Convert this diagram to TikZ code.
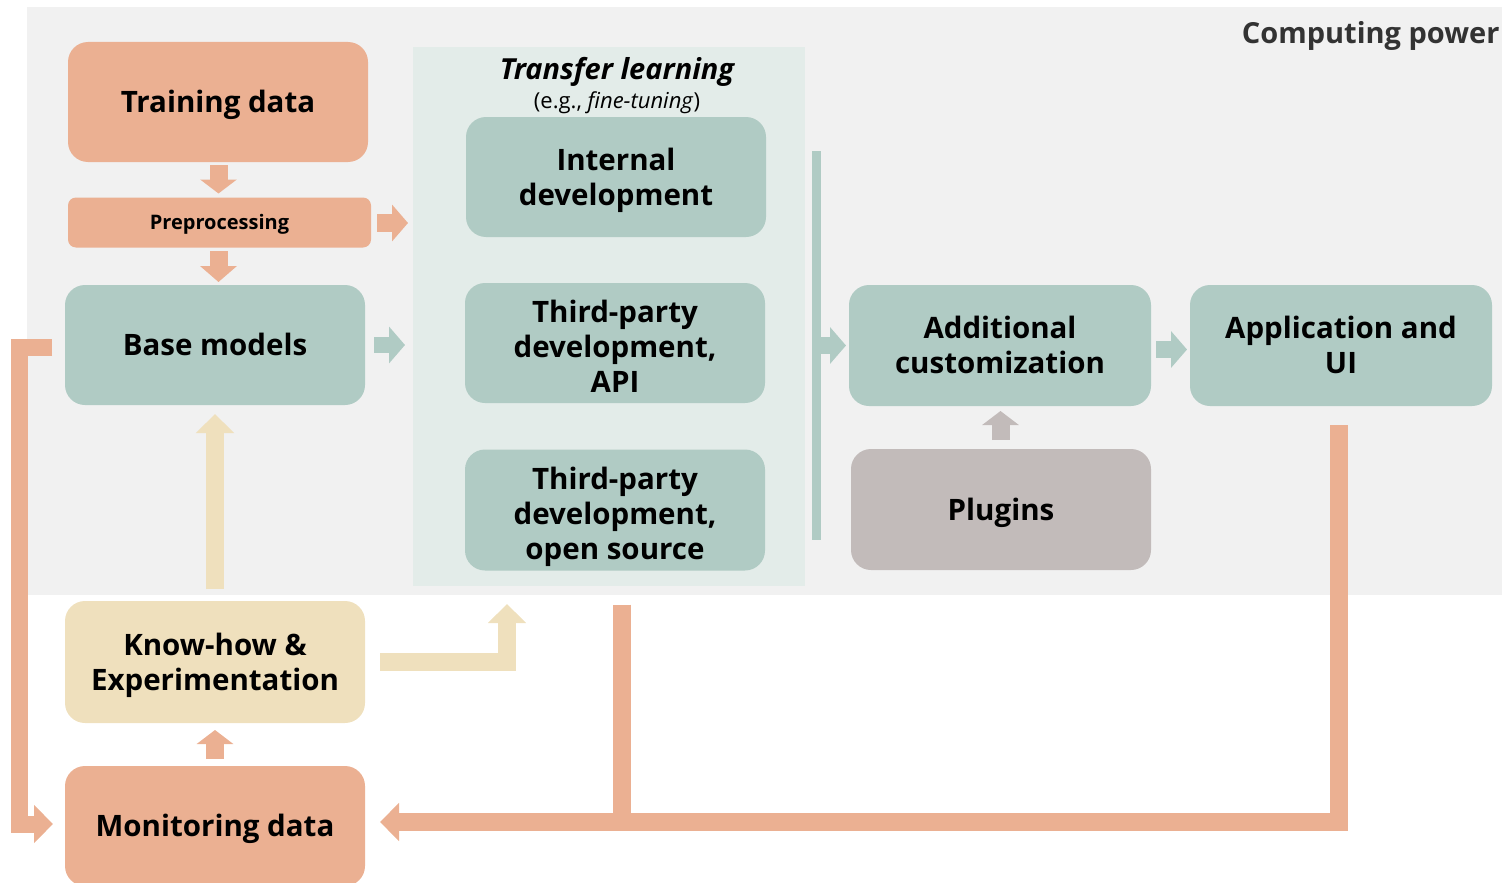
\documentclass[tikz,border=0pt]{standalone}
\usepackage{fontspec}
\setmainfont{Open Sans}
\usetikzlibrary{arrows.meta,calc}
\definecolor{salmon}{HTML}{EBB092}
\definecolor{sage}{HTML}{B0CBC4}
\definecolor{sand}{HTML}{EFE0BD}
\definecolor{stone}{HTML}{C2BBBA}
\definecolor{bggray}{HTML}{F1F1F1}
\definecolor{panelbg}{HTML}{E3ECE9}
\definecolor{darktext}{HTML}{333333}

% centred block of lines, lowered a little inside its box
\newcommand{\boxlines}[2][-3.5pt]{\raisebox{#1}[\height][\depth]{\begin{tabular}{@{}c@{}}#2\end{tabular}}}

\begin{document}
\begin{tikzpicture}[x=1pt,y=-1pt,
  box/.style={rectangle, rounded corners=20pt, minimum width=300pt, minimum height=120pt,
    inner sep=0pt, outer sep=0pt, text=black,
    font=\fontsize{29.5}{35}\selectfont\bfseries},
  flow/.style={draw=#1, line width=18pt, line join=miter, line cap=butt,
    -{Triangle[length=16pt,width=36pt]}},
  smallhead/.style={-{Triangle[length=14pt,width=36pt]}},
  bighead/.style={-{Triangle[length=19pt,width=37pt]}},
  bare/.style={draw=#1, line width=18pt, line cap=butt}
]
\useasboundingbox (0,0) rectangle (1502,883);

% computing power backdrop
\fill[bggray] (27,7) rectangle (1502,595);
\node[anchor=east, text=darktext, font=\fontsize{29}{34}\selectfont\bfseries] (cp) at (1503,36) {Computing power};

% transfer learning panel
\node[fill=panelbg, minimum width=392.5pt, minimum height=539pt, inner sep=0pt, outer sep=0pt,
  anchor=north west] (panel) at (412.5,47) {};
\node[font=\fontsize{29}{32}\selectfont\bfseries\itshape] (tl) at (617,72) {Transfer learning};
\node[font=\fontsize{22}{26}\selectfont] (eg) at (617,103) {(e.g., \textit{fine-tuning})};

% data and model boxes
\node[box, fill=salmon] (train) at (218,102) {\boxlines{Training data}};
\node[box, fill=salmon, minimum width=303pt, minimum height=50pt, rounded corners=8pt,
  font=\fontsize{20}{24}\selectfont\bfseries] (prep) at (219.5,222.5) {\boxlines[-2.5pt]{Preprocessing}};
\node[box, fill=sage] (base) at (215,345) {\boxlines{Base models}};
\node[box, fill=sand, minimum height=122pt] (know) at (215,662) {\boxlines{Know-how \&\\Experimentation}};
\node[box, fill=salmon] (mon) at (215,826) {\boxlines{Monitoring data}};

\node[box, fill=sage] (intdev) at (616,177) {\boxlines{Internal\\development}};
\node[box, fill=sage] (api) at (615,343) {\boxlines[-7.5pt]{Third-party\\development,\\API}};
\node[box, fill=sage, minimum height=121pt] (oss) at (615,510) {\boxlines[-7.5pt]{Third-party\\development,\\open source}};

\node[fill=sage, minimum width=9pt, minimum height=389pt, inner sep=0pt, outer sep=0pt,
  anchor=north] (bar) at (816.7,151) {};

\node[box, fill=sage, minimum width=302pt, minimum height=121pt] (addc) at (1000,345.5) {\boxlines{Additional\\customization}};
\node[box, fill=stone, minimum height=121pt] (plug) at (1001,509.5) {\boxlines{Plugins}};
\node[box, fill=sage, minimum width=302pt, minimum height=121pt] (app) at (1341,345.5) {\boxlines{Application and\\UI}};

% helper points
\coordinate (ret) at ($(mon.east)+(15,-4)$);
\coordinate (ossout) at ($(oss.south)+(7,34)$);
\coordinate (kin) at ($(panel.south west)+(94.5,18)$);
\coordinate (lx) at ($(base.west)+(-46,2.5)$);

% forward flow
\draw[flow=salmon, smallhead] ($(train.south)+(0.5,3)$) -- ($(train.south |- prep.north)+(0.5,-4)$);
\draw[flow=salmon] ($(prep.south)+(-1,3.5)$) -- ($(prep.south |- base.north)+(-1,-3)$);
\draw[flow=salmon] ($(prep.east)+(6,0.5)$) -- ($(panel.west |- prep.east)+(-4.5,0.5)$);
\draw[flow=sage, line width=16pt] ($(base.east)+(9,0)$) -- ($(panel.west |- base.east)+(-7.5,0)$);
\draw[flow=sage, line width=17pt] (bar.east |- addc.west) -- ($(addc.west)+(-3,0)$);
\draw[flow=sage, line width=17pt] ($(addc.east)+(5,4)$) -- ($(app.west)+(-3,4)$);
\draw[flow=stone, smallhead] ($(plug.north)+(-0.5,-9)$) -- ($(addc.south)+(0.5,5)$);

% know-how feeds models and transfer learning
\draw[flow=sand, bighead] ($(know.north)+(0,-12)$) -- ($(base.south)+(0,9)$);
\draw[flow=sand, bighead] ($(know.east)+(15,0)$) -| (kin);

% monitoring loop
\draw[flow=salmon, smallhead] ($(mon.north)+(0,-7)$) -- ($(know.south)+(0,7)$);
\draw[flow=salmon, bighead, line width=17pt] ($(base.west)+(-13,2.5)$) -- (lx) |- ($(mon.west)+(-12,-2)$);
\draw[flow=salmon, bighead] ($(app.south)+(-2.5,19)$) |- (ret);
\draw[bare=salmon] (ossout) -- (ossout |- ret);
\end{tikzpicture}
\end{document}
